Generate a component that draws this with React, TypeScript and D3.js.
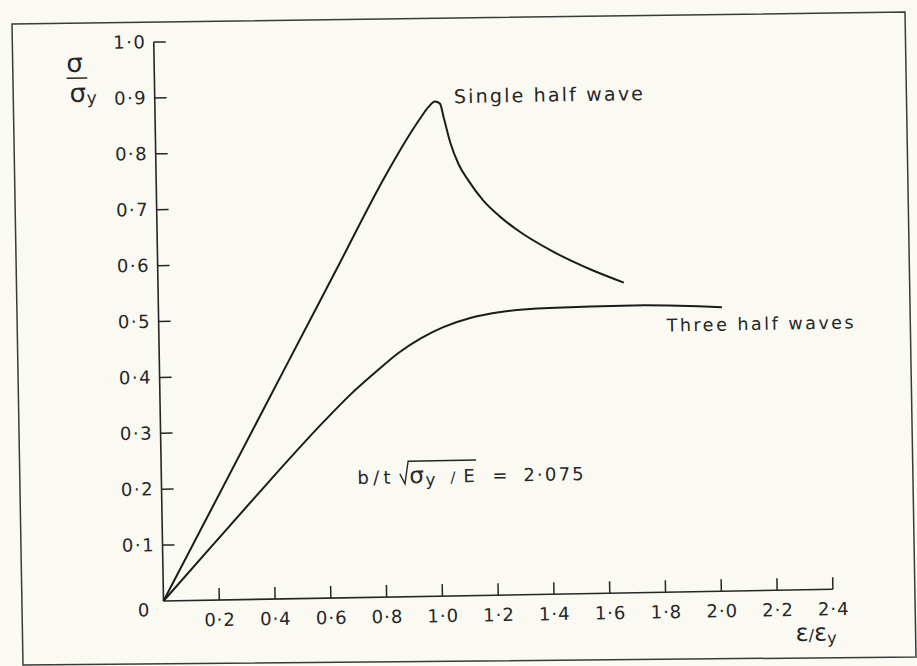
import React from 'react'
import * as d3 from 'd3'

const WIDTH = 917
const HEIGHT = 666

// axis ticks
const xTickValues = [0.2, 0.4, 0.6, 0.8, 1.0, 1.2, 1.4, 1.6, 1.8, 2.0, 2.2, 2.4]
const xTickLabels = ['0·2', '0·4', '0·6', '0·8', '1·0', '1·2', '1·4', '1·6', '1·8', '2·0', '2·2', '2·4']
const yTickValues = [0.1, 0.2, 0.3, 0.4, 0.5, 0.6, 0.7, 0.8, 0.9, 1.0]
const yTickLabels = ['0·1', '0·2', '0·3', '0·4', '0·5', '0·6', '0·7', '0·8', '0·9', '1·0']

// single half wave (strain ratio, stress ratio)
const singleStrain = [0, 0.46, 0.64, 0.82, 0.9, 0.95, 0.98, 1.004, 1.022, 1.035, 1.056, 1.085, 1.12, 1.17, 1.23, 1.29, 1.41, 1.55, 1.67]
const singleStress = [0, 0.422, 0.587, 0.752, 0.818, 0.855, 0.875, 0.885, 0.881, 0.855, 0.812, 0.772, 0.742, 0.707, 0.677, 0.653, 0.615, 0.58, 0.555]

// three half waves
const threeStrain = [0, 0.17, 0.335, 0.59, 0.68, 0.78, 0.86, 0.94, 1.02, 1.12, 1.22, 1.4, 1.7, 2.02]
const threeStress = [0, 0.093, 0.183, 0.318, 0.362, 0.405, 0.437, 0.462, 0.481, 0.497, 0.506, 0.512, 0.514, 0.508]

const ink = '#262626'
const paper = '#fafaf3'
const font = '"DejaVu Sans", sans-serif'

export default function App() {
  const x = d3.scaleLinear().domain([0, 2.4]).range([163.5, 833])
  const y = d3.scaleLinear().domain([0, 1]).range([601, 42])

  const line = d3
    .line<[number, number]>()
    .x((d) => x(d[0]))
    .y((d) => y(d[1]))
    .curve(d3.curveMonotoneX)

  const singlePath = line(singleStrain.map((v, i) => [v, singleStress[i]]) as [number, number][]) ?? ''
  const threePath = line(threeStrain.map((v, i) => [v, threeStress[i]]) as [number, number][]) ?? ''

  const tick = 12

  return (
    <svg
      width={WIDTH}
      height={HEIGHT}
      style={{ position: 'absolute', left: 0, top: 0, display: 'block' }}
      fontFamily={font}
    >
      <rect width={WIDTH} height={HEIGHT} fill={paper} />
      {/* frame of the page, slightly skewed like the scan */}
      <path d="M12,24 L905,12 L916,657 L23,665 Z" fill="none" stroke="#3a3a3a" strokeWidth={1.5} />

      <g transform={`rotate(-1, ${x(0)}, ${y(0)})`}>
        {/* axes */}
        <line x1={x(0)} x2={x(2.4)} y1={y(0)} y2={y(0)} stroke={ink} strokeWidth={1.6} />
        <line x1={x(0)} x2={x(0)} y1={y(0)} y2={y(1)} stroke={ink} strokeWidth={1.6} />

        {xTickValues.map((t, i) => (
          <g key={`xt${i}`}>
            <line x1={x(t)} x2={x(t)} y1={y(0)} y2={y(0) - tick} stroke={ink} strokeWidth={1.5} />
            <text x={x(t) + 0.5} y={y(0) + 26} textAnchor="middle" fontSize={18} letterSpacing={1} fill={ink}>
              {xTickLabels[i]}
            </text>
          </g>
        ))}
        {yTickValues.map((t, i) => (
          <g key={`yt${i}`}>
            <line x1={x(0)} x2={x(0) + tick} y1={y(t)} y2={y(t)} stroke={ink} strokeWidth={1.5} />
            <text x={x(0) - 7.5} y={y(t) + 6} textAnchor="end" fontSize={18} letterSpacing={1.5} fill={ink}>
              {yTickLabels[i]}
            </text>
          </g>
        ))}
        <text x={x(0) - 20} y={y(0) + 15} textAnchor="middle" fontSize={18} fill={ink}>
          0
        </text>

        {/* curves */}
        <path d={singlePath} fill="none" stroke="#1c1c1c" strokeWidth={2} strokeLinejoin="round" />
        <path d={threePath} fill="none" stroke="#1c1c1c" strokeWidth={2} strokeLinejoin="round" />

        {/* curve labels */}
        <text x={462.7} y={108.4} fontSize={19} fill={ink} textLength={189} lengthAdjust="spacing">
          Single half wave
        </text>
        <text x={671.4} y={340.4} fontSize={17.5} fill={ink} textLength={187} lengthAdjust="spacing">
          Three half waves
        </text>

        {/* parameter */}
        <path d="M402,478 L407,488 L410.5,465.5 L478.5,465.5" fill="none" stroke={ink} strokeWidth={1.4} />
        <text y={487.5} fill={ink} fontSize={18}>
          <tspan x={359.5} textLength={33} lengthAdjust="spacing">b/t</tspan>
          <tspan x={411.5} fontSize={23}>σ</tspan>
          <tspan x={427.5} dy={2.5} fontSize={17}>y</tspan>
          <tspan x={452.5} dy={-2.5} fontSize={15}>/</tspan>
          <tspan x={465.5}>E</tspan>
          <tspan x={494.5}>=</tspan>
          <tspan x={525.5} letterSpacing={2.2}>2·075</tspan>
        </text>

        {/* y axis title */}
        <line x1={75.8} x2={96.4} y1={76.7} y2={76.7} stroke={ink} strokeWidth={1.5} />
        <text fill={ink} fontSize={26}>
          <tspan x={84} y={70.5} textAnchor="middle">σ</tspan>
          <tspan x={78.5} y={100.5}>σ</tspan>
          <tspan x={95.5} y={102.5} fontSize={17}>y</tspan>
        </text>

        {/* x axis title */}
        <text x={795} y={652} fill={ink}>
          <tspan fontSize={24}>ε</tspan>
          <tspan fontSize={16}>/</tspan>
          <tspan fontSize={24}>ε</tspan>
          <tspan fontSize={16} dy={3}>y</tspan>
        </text>
      </g>
    </svg>
  )
}
